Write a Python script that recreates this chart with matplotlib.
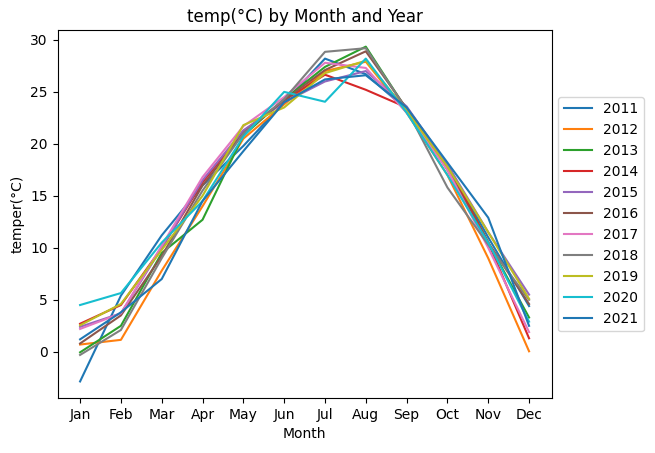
import matplotlib
matplotlib.use("Agg")
import matplotlib.pyplot as plt

months = ['Jan', 'Feb', 'Mar', 'Apr', 'May', 'Jun', 'Jul', 'Aug', 'Sep', 'Oct', 'Nov', 'Dec']
years = [2011, 2012, 2013, 2014, 2015, 2016, 2017, 2018, 2019, 2020, 2021]

t2011 = [-2.85, 5.4, 11.2, 16.0, 19.8, 24.0, 28.2, 26.7, 23.3, 18.0, 11.0, 4.4]
t2012 = [0.7, 1.15, 7.8, 14.0, 20.5, 23.8, 27.0, 27.9, 23.0, 17.0, 9.0, 0.05]
t2013 = [-0.05, 2.5, 9.5, 12.7, 20.8, 24.3, 27.4, 29.35, 23.3, 18.0, 10.5, 3.3]
t2014 = [2.7, 4.5, 10.0, 16.3, 21.2, 24.2, 26.65, 25.2, 23.5, 18.0, 10.5, 1.3]
t2015 = [2.4, 3.7, 10.0, 16.5, 21.3, 24.0, 26.0, 27.0, 23.6, 18.0, 11.5, 5.5]
t2016 = [0.8, 3.5, 9.2, 16.0, 21.0, 24.2, 27.1, 28.9, 23.4, 17.5, 10.5, 4.6]
t2017 = [2.2, 3.7, 10.2, 16.8, 21.7, 24.5, 27.8, 27.3, 23.0, 17.5, 10.0, 1.9]
t2018 = [-0.3, 2.1, 9.0, 15.5, 21.0, 24.3, 28.85, 29.2, 23.3, 15.8, 10.3, 5.0]
t2019 = [2.55, 4.6, 9.8, 15.0, 21.8, 23.5, 26.8, 28.0, 23.2, 17.8, 11.5, 5.1]
t2020 = [4.5, 5.65, 10.5, 14.5, 20.7, 25.0, 24.05, 28.2, 23.0, 17.0, 10.5, 2.9]
t2021 = [1.2, 3.8, 7.0, 14.5, 19.3, 24.0, 26.2, 26.6, 23.5, 18.2, 12.9, 2.5]

temps = [t2011, t2012, t2013, t2014, t2015, t2016, t2017, t2018, t2019, t2020, t2021]

fig, ax = plt.subplots(figsize=(6.55, 4.53), dpi=100)
fig.subplots_adjust(left=0.088, right=0.842, top=0.934, bottom=0.121)

for yr, vals in zip(years, temps):
    ax.plot(months, vals, label=str(yr))

ax.set_title('temp(°C) by Month and Year')
ax.set_xlabel('Month')
ax.set_ylabel('temper(°C)')
ax.legend(loc='center left', bbox_to_anchor=(1, 0.5))

fig.savefig('out.png', dpi=100)
